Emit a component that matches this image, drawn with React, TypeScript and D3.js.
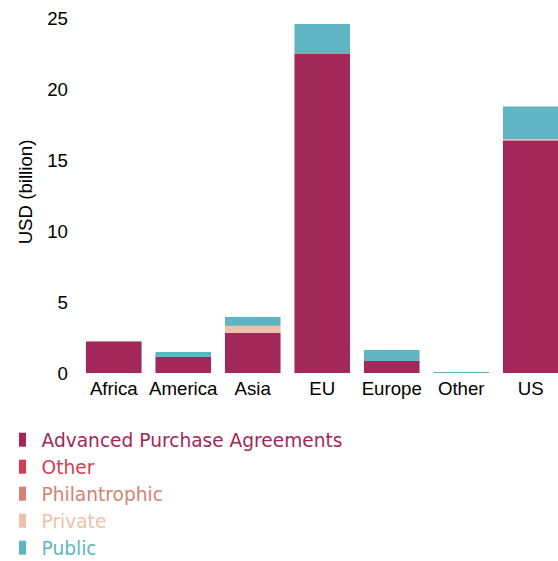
import React from 'react';
import * as d3 from 'd3';

// Regions on the x axis
const regions = ['Africa', 'America', 'Asia', 'EU', 'Europe', 'Other', 'US'];

// Funding by source, USD billion
const advancedPurchase = [2.22, 1.13, 2.82, 22.5, 0.85, 0, 16.37];
const otherFunding = [0, 0, 0, 0, 0, 0, 0];
const philanthropic = [0.03, 0, 0, 0.03, 0, 0, 0.06];
const privateFunding = [0, 0, 0.5, 0, 0, 0, 0.04];
const publicFunding = [0, 0.35, 0.63, 2.05, 0.77, 0.07, 2.3];

const seriesNames = ['Advanced Purchase Agreements', 'Other', 'Philantrophic', 'Private', 'Public'];
const seriesValues = [advancedPurchase, otherFunding, philanthropic, privateFunding, publicFunding];
const colors = ['#a2285a', '#d43d51', '#d28376', '#efc1a8', '#5fb5c1'];

const yTicks = [0, 5, 10, 15, 20, 25];

const width = 558;
const height = 561;

const App = () => {
  // one row per region, keyed by series name
  const rows = regions.map((r, i) => {
    const row: Record<string, any> = { region: r };
    seriesNames.forEach((s, j) => (row[s] = seriesValues[j][i]));
    return row;
  });

  const stacked = d3.stack().keys(seriesNames)(rows as any);

  const x = d3.scaleBand().domain(regions).range([79, 565.5]).paddingInner(0.2).paddingOuter(0.1);
  const y = d3.scaleLinear().domain([0, 25]).range([373, 18]);

  const axisFont = '"Liberation Sans", Arial, sans-serif';
  const legendFont = '"DejaVu Sans", sans-serif';
  const fontSize = 18.67;

  return (
    <svg width={width} height={height} style={{ position: 'absolute', left: 0, top: 0 }}>
      {/* stacked bars */}
      {stacked.map((layer, j) => (
        <g key={seriesNames[j]} fill={colors[j]}>
          {layer.map((d, i) =>
            d[1] - d[0] > 0 ? (
              <rect
                key={regions[i]}
                x={x(regions[i])}
                width={x.bandwidth()}
                y={y(d[1])}
                height={y(d[0]) - y(d[1])}
              />
            ) : null
          )}
        </g>
      ))}

      {/* y tick labels */}
      {yTicks.map((t) => (
        <text
          key={t}
          x={68}
          y={y(t)}
          dy="0.36em"
          textAnchor="end"
          fontFamily={axisFont}
          fontSize={fontSize}
          fill="#000"
        >
          {t}
        </text>
      ))}

      {/* y axis title */}
      <text
        transform="translate(32,192) rotate(-90)"
        textAnchor="middle"
        fontFamily={axisFont}
        fontSize={fontSize}
        fill="#000"
      >
        USD (billion)
      </text>

      {/* x tick labels */}
      {regions.map((r) => (
        <text
          key={r}
          x={(x(r) as number) + x.bandwidth() / 2}
          y={395}
          textAnchor="middle"
          fontFamily={axisFont}
          fontSize={fontSize}
          fill="#000"
        >
          {r}
        </text>
      ))}

      {/* legend */}
      {seriesNames.map((s, j) => (
        <g key={s} transform={`translate(0, ${446.7 + j * 27})`}>
          <rect x={19} y={-14} width={7} height={14} fill={colors[j]} />
          <text x={41.5} y={0} fontFamily={legendFont} fontSize={18.6} fill={colors[j]}>
            {s}
          </text>
        </g>
      ))}
    </svg>
  );
};

export default App;
